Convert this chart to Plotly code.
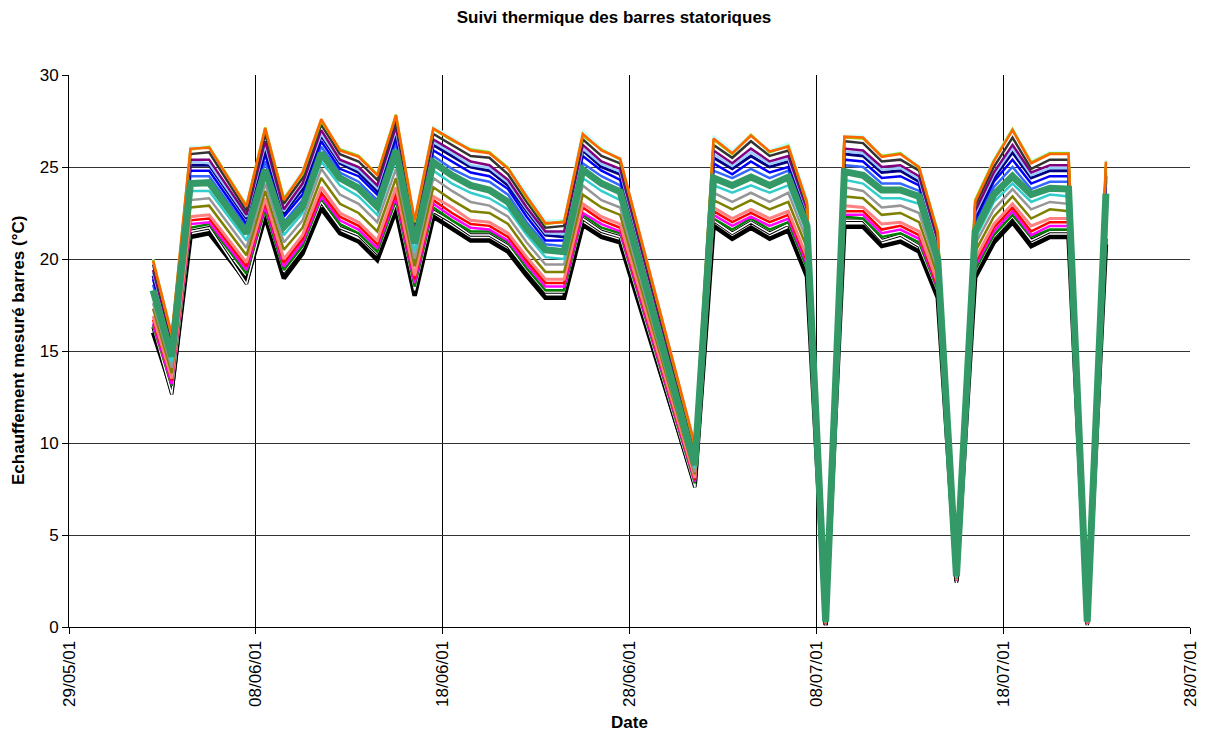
import pandas as pd
import plotly.graph_objects as go

dates = ["2001-06-02", "2001-06-03", "2001-06-04", "2001-06-05", "2001-06-07", "2001-06-08",
         "2001-06-09", "2001-06-10", "2001-06-11", "2001-06-12", "2001-06-13", "2001-06-14",
         "2001-06-15", "2001-06-16", "2001-06-17", "2001-06-18", "2001-06-19", "2001-06-20",
         "2001-06-21", "2001-06-22", "2001-06-23", "2001-06-24", "2001-06-25", "2001-06-26",
         "2001-06-27", "2001-07-01", "2001-07-02", "2001-07-03", "2001-07-04", "2001-07-05",
         "2001-07-06", "2001-07-07", "2001-07-08", "2001-07-09", "2001-07-10", "2001-07-11",
         "2001-07-12", "2001-07-13", "2001-07-14", "2001-07-15", "2001-07-16", "2001-07-17",
         "2001-07-18", "2001-07-19", "2001-07-20", "2001-07-21", "2001-07-22", "2001-07-23"]

barre_n = [20.0, 16.0, 26.1, 26.1, 22.95, 27.0, 23.3, 24.8, 27.5, 26.0, 25.6, 24.6, 27.7, 22.2,
           27.2, 26.6, 26.0, 25.8, 25.0, 23.6, 22.1, 22.1, 27.0, 26.0, 25.5, 10.0, 26.7, 25.9,
           26.7, 25.9, 26.3, 23.3, 0.6, 26.7, 26.7, 25.6, 25.8, 25.1, 21.6, 3.0, 23.2, 25.4,
           27.1, 25.3, 25.8, 25.8, 0.5, 25.4]
barre_max = [19.9, 15.9, 26.0, 26.05, 22.85, 27.1, 23.2, 24.7, 27.6, 25.9, 25.55, 24.55, 27.8, 22.1,
             27.1, 26.5, 25.9, 25.75, 24.9, 23.4, 21.95, 22.0, 26.8, 25.9, 25.45, 9.9, 26.55, 25.75,
             26.7, 25.85, 26.1, 23.1, 0.6, 26.65, 26.6, 25.55, 25.7, 25.0, 21.4, 3.0, 23.1, 25.3,
             27.0, 25.2, 25.7, 25.7, 0.5, 25.3]
barre_m = [19.95, 15.8, 25.95, 26.1, 22.9, 27.15, 23.3, 24.6, 27.5, 25.95, 25.6, 24.6, 27.85, 22.0,
           27.05, 26.45, 25.95, 25.8, 24.95, 23.3, 21.9, 22.05, 26.7, 25.95, 25.4, 9.8, 26.5, 25.7,
           26.75, 25.8, 26.15, 23.0, 0.55, 26.6, 26.55, 25.6, 25.75, 24.95, 21.5, 2.95, 23.2, 25.35,
           27.05, 25.25, 25.75, 25.75, 0.5, 25.2]
barre_moy = [18.3, 14.7, 24.1, 24.15, 21.4, 24.85, 21.75, 22.85, 25.75, 24.4, 23.85, 22.85, 25.9, 20.85,
             25.25, 24.55, 24.0, 23.75, 23.1, 21.65, 20.5, 20.4, 24.85, 24.1, 23.65, 8.8, 24.4, 24.0,
             24.45, 24.0, 24.45, 21.8, 0.3, 24.75, 24.55, 23.75, 23.75, 23.4, 20.0, 2.75, 21.5, 23.5,
             24.5, 23.5, 23.85, 23.8, 0.3, 23.55]
barre_min = [16.0, 12.9, 21.2, 21.4, 18.8, 22.3, 18.95, 20.3, 22.75, 21.4, 20.95, 19.95, 22.65, 18.0,
             22.3, 21.65, 21.0, 21.0, 20.4, 19.1, 17.9, 17.9, 21.85, 21.2, 20.9, 7.8, 21.8, 21.1,
             21.7, 21.1, 21.55, 19.05, 0.1, 21.75, 21.75, 20.7, 20.95, 20.4, 17.9, 2.5, 19.0, 20.9,
             22.0, 20.7, 21.2, 21.2, 0.2, 20.8]
barre_w = [16.3, 12.65, 21.5, 21.7, 18.65, 22.6, 19.3, 20.6, 23.1, 21.7, 21.3, 20.3, 23.0, 18.3,
           22.6, 22.0, 21.3, 21.3, 20.7, 19.4, 18.2, 18.2, 22.2, 21.5, 21.2, 7.6, 22.1, 21.4,
           22.0, 21.4, 21.9, 19.4, 0.1, 22.1, 22.1, 21.0, 21.3, 20.7, 18.2, 2.4, 19.3, 21.2,
           22.3, 21.0, 21.5, 21.5, 0.1, 21.1]
barre_a = [19.7, 15.7, 25.7, 25.8, 22.6, 26.8, 23.0, 24.4, 27.3, 25.7, 25.3, 24.3, 27.5, 21.9,
           26.8, 26.2, 25.6, 25.5, 24.6, 23.1, 21.7, 21.8, 26.5, 25.6, 25.2, 9.7, 26.2, 25.5,
           26.4, 25.6, 25.9, 22.9, 0.5, 26.4, 26.3, 25.3, 25.4, 24.8, 21.2, 2.95, 22.9, 25.0,
           26.6, 24.9, 25.4, 25.4, 0.5, 25.0]
barre_b = [19.4, 15.5, 25.4, 25.4, 22.4, 26.4, 22.7, 24.1, 27.0, 25.4, 25.0, 24.0, 27.2, 21.7,
           26.5, 25.9, 25.3, 25.1, 24.3, 22.8, 21.5, 21.5, 26.2, 25.3, 24.9, 9.5, 25.9, 25.2,
           26.0, 25.3, 25.6, 22.7, 0.5, 26.0, 25.9, 25.0, 25.1, 24.5, 21.0, 2.9, 22.6, 24.7,
           26.2, 24.7, 25.1, 25.1, 0.4, 24.7]
barre_p = [19.25, 15.4, 25.3, 25.2, 22.3, 26.2, 22.6, 24.0, 26.8, 25.3, 24.85, 23.85, 27.0, 21.6,
           26.35, 25.75, 25.1, 24.95, 24.15, 22.7, 21.4, 21.35, 26.0, 25.15, 24.75, 9.45, 25.7, 25.05,
           25.8, 25.15, 25.45, 22.6, 0.45, 25.85, 25.75, 24.85, 24.95, 24.35, 20.85, 2.9, 22.45, 24.55,
           26.0, 24.55, 24.95, 24.95, 0.4, 24.6]
barre_c = [19.1, 15.3, 25.1, 25.1, 22.2, 26.0, 22.5, 23.8, 26.7, 25.2, 24.7, 23.7, 26.9, 21.5,
           26.2, 25.6, 25.0, 24.8, 24.0, 22.6, 21.3, 21.2, 25.9, 25.0, 24.6, 9.4, 25.5, 24.9,
           25.6, 25.0, 25.3, 22.5, 0.45, 25.7, 25.6, 24.7, 24.8, 24.2, 20.7, 2.85, 22.3, 24.4,
           25.8, 24.4, 24.8, 24.8, 0.4, 24.5]
barre_d = [18.9, 15.1, 24.8, 24.8, 21.9, 25.7, 22.3, 23.5, 26.4, 24.9, 24.5, 23.5, 26.6, 21.3,
           25.9, 25.3, 24.7, 24.5, 23.8, 22.3, 21.0, 21.0, 25.6, 24.8, 24.3, 9.2, 25.2, 24.6,
           25.3, 24.7, 25.0, 22.3, 0.4, 25.4, 25.3, 24.4, 24.5, 24.0, 20.5, 2.85, 22.1, 24.2,
           25.4, 24.1, 24.5, 24.5, 0.35, 24.2]
barre_e = [18.6, 14.9, 24.5, 24.5, 21.7, 25.3, 22.0, 23.2, 26.1, 24.7, 24.2, 23.2, 26.3, 21.1,
           25.6, 24.9, 24.4, 24.2, 23.5, 22.0, 20.8, 20.7, 25.2, 24.5, 24.0, 9.0, 24.8, 24.4,
           24.9, 24.4, 24.8, 22.1, 0.35, 25.1, 25.0, 24.1, 24.1, 23.7, 20.3, 2.8, 21.8, 23.9,
           25.0, 23.8, 24.2, 24.2, 0.35, 23.9]
barre_f = [18.0, 14.4, 23.7, 23.7, 21.0, 24.5, 21.3, 22.5, 25.3, 24.0, 23.4, 22.4, 25.4, 20.4,
           24.8, 24.1, 23.6, 23.3, 22.7, 21.3, 20.1, 20.0, 24.4, 23.7, 23.2, 8.6, 24.0, 23.6,
           24.0, 23.6, 24.0, 21.4, 0.25, 24.3, 24.1, 23.3, 23.3, 23.0, 19.7, 2.7, 21.1, 23.1,
           24.1, 23.1, 23.5, 23.4, 0.3, 23.1]
barre_g = [17.6, 14.1, 23.2, 23.3, 20.6, 24.1, 20.9, 22.1, 24.9, 23.5, 23.0, 22.0, 24.9, 20.0,
           24.4, 23.7, 23.1, 22.9, 22.3, 20.9, 19.7, 19.7, 24.0, 23.2, 22.8, 8.4, 23.6, 23.1,
           23.6, 23.1, 23.6, 21.0, 0.25, 23.9, 23.7, 22.8, 22.9, 22.5, 19.4, 2.65, 20.8, 22.7,
           23.8, 22.7, 23.1, 23.0, 0.25, 22.7]
barre_h = [17.3, 13.8, 22.8, 22.9, 20.2, 23.7, 20.5, 21.7, 24.4, 23.0, 22.5, 21.5, 24.4, 19.6,
           23.9, 23.2, 22.6, 22.5, 21.9, 20.5, 19.3, 19.3, 23.5, 22.8, 22.4, 8.3, 23.2, 22.7,
           23.2, 22.7, 23.1, 20.6, 0.2, 23.4, 23.3, 22.4, 22.5, 22.0, 19.1, 2.6, 20.4, 22.3,
           23.4, 22.2, 22.7, 22.6, 0.25, 22.3]
barre_i = [16.9, 13.5, 22.3, 22.4, 19.8, 23.3, 20.0, 21.3, 23.9, 22.5, 22.0, 21.0, 23.9, 19.1,
           23.4, 22.8, 22.1, 22.0, 21.4, 20.1, 18.9, 18.9, 23.0, 22.3, 21.9, 8.1, 22.8, 22.2,
           22.7, 22.2, 22.6, 20.1, 0.2, 22.9, 22.8, 21.9, 22.0, 21.5, 18.7, 2.55, 20.0, 21.9,
           23.0, 21.8, 22.2, 22.2, 0.2, 21.8]
barre_j = [16.7, 13.4, 22.1, 22.2, 19.6, 23.1, 19.8, 21.1, 23.6, 22.3, 21.8, 20.8, 23.6, 18.9,
           23.2, 22.5, 21.9, 21.8, 21.2, 19.9, 18.7, 18.7, 22.8, 22.1, 21.7, 8.0, 22.6, 22.0,
           22.5, 22.0, 22.4, 19.9, 0.15, 22.6, 22.6, 21.6, 21.8, 21.3, 18.5, 2.55, 19.8, 21.7,
           22.8, 21.5, 22.0, 22.0, 0.2, 21.6]
barre_k = [16.5, 13.2, 21.9, 22.0, 19.4, 22.9, 19.6, 20.9, 23.4, 22.1, 21.6, 20.6, 23.4, 18.7,
           23.0, 22.3, 21.7, 21.6, 21.0, 19.7, 18.5, 18.5, 22.5, 21.9, 21.5, 7.9, 22.4, 21.8,
           22.3, 21.8, 22.2, 19.7, 0.15, 22.4, 22.4, 21.4, 21.6, 21.1, 18.4, 2.5, 19.6, 21.5,
           22.6, 21.3, 21.8, 21.8, 0.15, 21.4]
barre_l = [16.4, 13.1, 21.7, 21.9, 19.2, 22.7, 19.4, 20.7, 23.3, 21.9, 21.4, 20.4, 23.2, 18.5,
           22.8, 22.1, 21.5, 21.5, 20.9, 19.5, 18.3, 18.3, 22.4, 21.7, 21.4, 7.8, 22.2, 21.6,
           22.2, 21.6, 22.0, 19.5, 0.15, 22.3, 22.2, 21.2, 21.4, 20.9, 18.3, 2.5, 19.4, 21.3,
           22.4, 21.2, 21.6, 21.6, 0.15, 21.3]

x_tick_start = "2001-05-29"
x_tick_end = "2001-07-28"
y_ticks = [0, 5, 10, 15, 20, 25, 30]

FONT = "Arial, 'Liberation Sans', sans-serif"

# Excel date axis: points centred in their day slot
xs = pd.to_datetime(dates) + pd.Timedelta(hours=12)

fig = go.Figure()


def add(y, color, width):
    fig.add_trace(go.Scatter(x=xs, y=y, mode="lines", showlegend=False,
                             line=dict(color=color, width=width), hoverinfo="skip"))


add(barre_n, "#CCFFFF", 2.5)
add(barre_min, "#000000", 4.5)
add(barre_w, "#000000", 3.5)
add(barre_w, "#FFFFFF", 1.5)
add(barre_l, "#008000", 2.5)
add(barre_k, "#FF00FF", 2.5)
add(barre_j, "#FF0000", 2.5)
add(barre_i, "#FF8080", 3)
add(barre_h, "#808000", 2.5)
add(barre_g, "#969696", 2.5)
add(barre_f, "#33CCCC", 2.5)
add(barre_e, "#3366FF", 2.5)
add(barre_d, "#0000FF", 2.5)
add(barre_c, "#000080", 3)
add(barre_p, "#99CCFF", 2.5)
add(barre_b, "#800080", 2.5)
add(barre_a, "#333333", 2.5)
add(barre_m, "#99CC00", 2.5)
add(barre_max, "#FF6600", 2.5)
add(barre_moy, "#339966", 7)

# the page adds an 8px body margin, so the figure is 8px smaller and shifted
W, H = 1212, 725
fig.update_layout(
    width=W, height=H,
    paper_bgcolor="white", plot_bgcolor="white",
    margin=dict(l=61, r=30, t=67, b=106, autoexpand=False),
    font=dict(family=FONT, size=17, color="black"),
    title=dict(text="<b>Suivi thermique des barres statoriques</b>",
               x=0.5, xref="container", xanchor="center",
               y=1 - 9 / H, yref="container", yanchor="middle",
               font=dict(family=FONT, size=17, color="black")),
    xaxis=dict(type="date", range=[x_tick_start, x_tick_end],
               tick0=x_tick_start, dtick=10 * 86400000, tickformat="%d/%m/%y",
               tickangle=-90, ticks="outside", ticklen=6, tickcolor="black",
               showgrid=True, gridcolor="black", gridwidth=1,
               showline=True, linecolor="black", linewidth=1, zeroline=False,
               tickfont=dict(family=FONT, size=17, color="black")),
    yaxis=dict(range=[0, 30], tickvals=y_ticks, ticks="outside", ticklen=6,
               tickcolor="black", showgrid=True, gridcolor="#333333", gridwidth=1,
               showline=True, linecolor="black", linewidth=1, zeroline=False,
               tickfont=dict(family=FONT, size=17, color="black")),
    annotations=[
        dict(text="<b>Echauffement mesuré barres (°C)</b>", textangle=-90,
             xref="paper", yref="paper", x=(10 - 61) / 1121, y=0.5,
             xanchor="center", yanchor="middle", showarrow=False,
             font=dict(family=FONT, size=17, color="black")),
        dict(text="<b>Date</b>", xref="paper", yref="paper",
             x=0.5, y=(619 - 714) / 552, xanchor="center", yanchor="middle",
             showarrow=False, font=dict(family=FONT, size=17, color="black")),
    ],
)

fig.write_html("out.html")
